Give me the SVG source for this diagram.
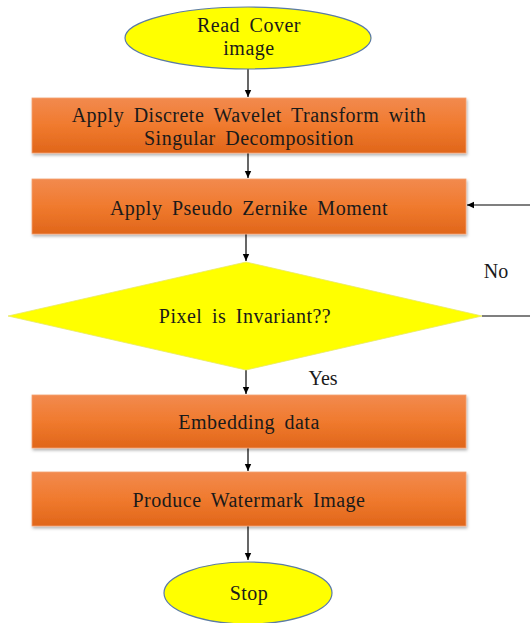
<svg xmlns="http://www.w3.org/2000/svg" width="530" height="623" viewBox="0 0 530 623">
<defs>
<linearGradient id="og" x1="0" y1="0" x2="0" y2="1">
<stop offset="0" stop-color="#F28A4E"/>
<stop offset="0.5" stop-color="#F07A2E"/>
<stop offset="1" stop-color="#E0661A"/>
</linearGradient>
<filter id="sh" x="-5%" y="-10%" width="110%" height="130%">
<feDropShadow dx="1" dy="2" stdDeviation="1.5" flood-color="#000" flood-opacity="0.3"/>
</filter>
<marker id="ah" markerWidth="8" markerHeight="8" refX="7" refY="4" orient="auto" markerUnits="userSpaceOnUse">
<path d="M0,0.8 L7,4 L0,7.2 z" fill="#000"/>
</marker>
</defs>
<style>
.box{fill:url(#og);stroke:#F4A070;stroke-width:0.8;filter:url(#sh)}
.term{fill:#FFFF00;stroke:#5B7BA6;stroke-width:1.2}
.t{font-family:"Liberation Serif","Times New Roman",serif;font-size:20px;fill:#1a1a1a;text-anchor:middle;letter-spacing:0.5px;word-spacing:4px}
.c{stroke:#000;stroke-width:1.2;fill:none}
</style>
<rect width="530" height="623" fill="#fff"/>
<g id="connectors">
<line class="c" x1="248" y1="69" x2="248" y2="97" marker-end="url(#ah)"/>
<line class="c" x1="248" y1="153" x2="248" y2="178" marker-end="url(#ah)"/>
<line class="c" x1="246" y1="234" x2="246" y2="261" marker-end="url(#ah)"/>
<line class="c" x1="246" y1="370" x2="246" y2="394" marker-end="url(#ah)"/>
<line class="c" x1="248" y1="448" x2="248" y2="471" marker-end="url(#ah)"/>
<line class="c" x1="248" y1="526" x2="248" y2="560" marker-end="url(#ah)"/>
<line class="c" x1="482" y1="316" x2="531" y2="316"/>
<line class="c" x1="531" y1="205" x2="467" y2="205" marker-end="url(#ah)"/>
<text class="t" x="496" y="278" style="letter-spacing:0">No</text>
<text class="t" x="323" y="385" style="letter-spacing:0">Yes</text>
</g>
<g id="start">
<ellipse class="term" cx="248" cy="38" rx="123" ry="31"/>
<text class="t" x="249" y="32">Read Cover</text>
<text class="t" x="249" y="55">image</text>
</g>
<g id="dwt">
<rect class="box" x="32" y="98" width="434" height="55"/>
<text class="t" x="249" y="122">Apply Discrete Wavelet Transform with</text>
<text class="t" x="249" y="145">Singular Decomposition</text>
</g>
<g id="pzm">
<rect class="box" x="32" y="179" width="434" height="55"/>
<text class="t" x="249" y="215">Apply Pseudo Zernike Moment</text>
</g>
<g id="decision">
<polygon points="246,262 482,316 246,370 8,316" fill="#FFFF00" stroke="#E8E86A" stroke-width="0.8"/>
<text class="t" x="245" y="323">Pixel is Invariant??</text>
</g>
<g id="embed">
<rect class="box" x="32" y="395" width="434" height="53"/>
<text class="t" x="249" y="429">Embedding data</text>
</g>
<g id="produce">
<rect class="box" x="32" y="472" width="434" height="54"/>
<text class="t" x="249" y="507">Produce Watermark Image</text>
</g>
<g id="stop">
<ellipse class="term" cx="248" cy="593" rx="84" ry="31"/>
<text class="t" x="249" y="600">Stop</text>
</g>
</svg>
